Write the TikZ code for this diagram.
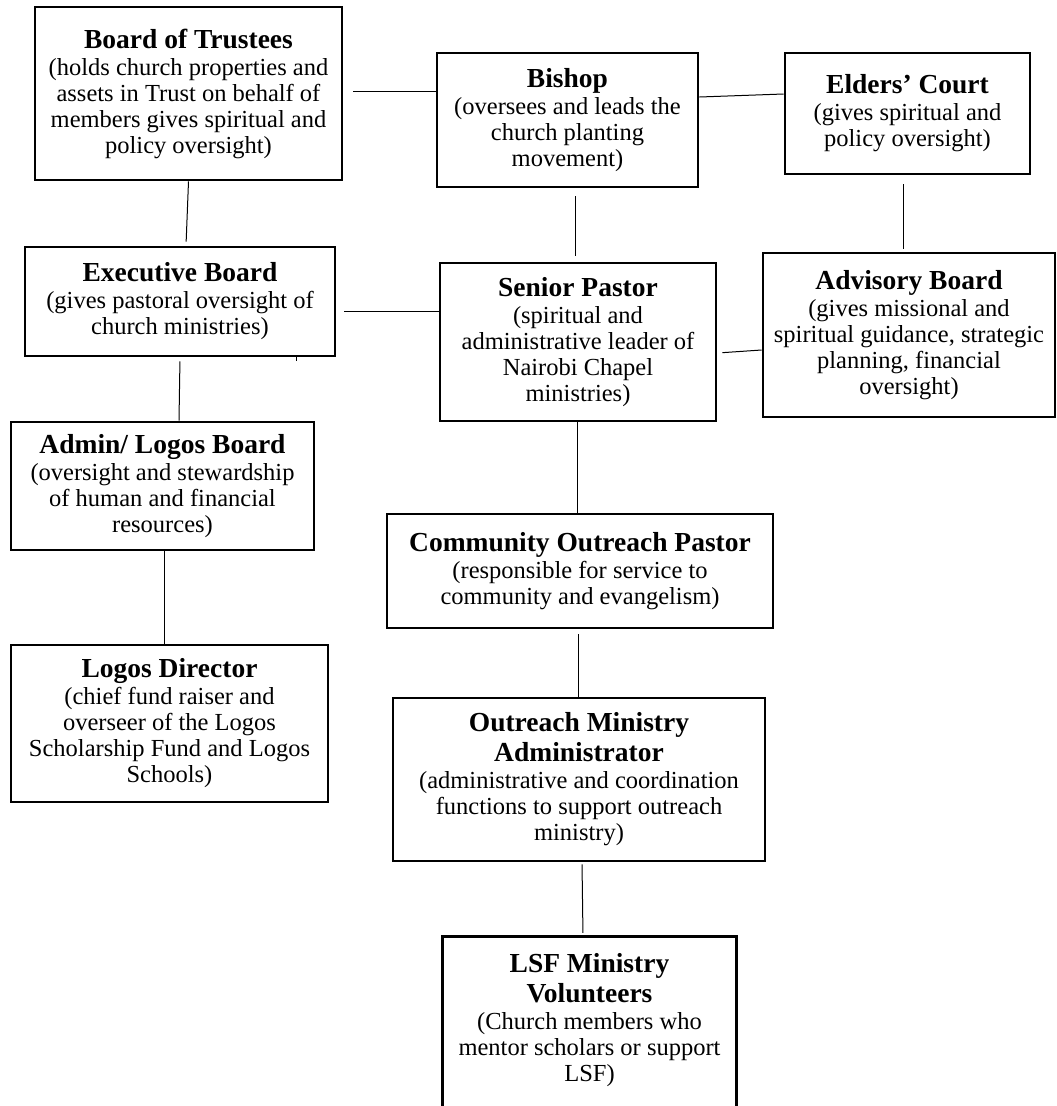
\documentclass[tikz,border=0pt]{standalone}
\usepackage{fontspec}
\setmainfont{Liberation Serif}
\usepackage{tikz}

\newcommand{\boxhead}[1]{{\fontsize{27.5}{30}\selectfont\bfseries #1}}

\begin{document}
\begin{tikzpicture}[x=1pt, y=-1pt,
    every node/.style={font=\fontsize{24.5}{26}\selectfont},
    orgbox/.style={draw, line width=2.8pt, align=center, inner sep=0pt},
    link/.style={line width=1pt}]
  \useasboundingbox (0,0) rectangle (1057,1106);

  % Governing bodies
  \node[orgbox, minimum width=307pt, minimum height=173pt] (trustees) at (188.5,93.5)
    {\boxhead{Board of Trustees}\\[1pt](holds church properties and\\assets in Trust on behalf of\\members gives spiritual and\\policy oversight)};
  \node[orgbox, minimum width=261pt, minimum height=134pt] (bishop) at (567.5,120)
    {\boxhead{Bishop}\\[1pt](oversees and leads the\\church planting\\movement)};
  \node[orgbox, minimum width=245pt, minimum height=121pt] (elders) at (907.5,113.5)
    {\boxhead{Elders’ Court}\\[1pt](gives spiritual and\\policy oversight)};

  % Second row
  \node[orgbox, minimum width=310pt, minimum height=109pt] (exec) at (180,301.5)
    {\boxhead{Executive Board}\\[1pt](gives pastoral oversight of\\church ministries)};
  \node[orgbox, minimum width=276pt, minimum height=158pt] (senior) at (578,342)
    {\boxhead{Senior Pastor}\\[1pt](spiritual and\\administrative leader of\\Nairobi Chapel\\ministries)};
  \node[orgbox, minimum width=292pt, minimum height=164pt] (advisory) at (909,335)
    {\boxhead{Advisory Board}\\[1pt](gives missional and\\spiritual guidance, strategic\\planning, financial\\oversight)};

  % Logos side
  \node[orgbox, minimum width=303pt, minimum height=128pt] (admin) at (162.5,486)
    {\boxhead{Admin/ Logos Board}\\[1pt](oversight and stewardship\\of human and financial\\resources)};
  \node[orgbox, minimum width=317pt, minimum height=157pt] (logos) at (169.5,723.5)
    {\boxhead{Logos Director}\\[1pt](chief fund raiser and\\overseer of the Logos\\Scholarship Fund and Logos\\Schools)};

  % Outreach side
  \node[orgbox, minimum width=386pt, minimum height=114pt] (cop) at (580,571)
    {\boxhead{Community Outreach Pastor}\\[1pt](responsible for service to\\community and evangelism)};
  \node[orgbox, minimum width=372pt, minimum height=163pt] (oma) at (579,779.5)
    {\boxhead{Outreach Ministry}\\[4pt]\boxhead{Administrator}\\[1pt](administrative and coordination\\functions to support outreach\\ministry)};
  \node[align=center, inner sep=0pt, minimum width=293pt, minimum height=166pt] (lsf) at (589.5,1020)
    {\boxhead{LSF Ministry}\\[4pt]\boxhead{Volunteers}\\[1pt](Church members who\\mentor scholars or support\\LSF)};
  \draw[line width=2.8pt] ([yshift=-40pt]lsf.south west) |- (lsf.north east) -- ([yshift=-40pt]lsf.south east);

  % Lines
  \draw[link, shorten <=10pt] ([yshift=2pt]trustees.east) -- ([yshift=2pt]trustees.east -| bishop.west);
  \draw[link] ([yshift=23pt]bishop.east) -- ([yshift=19.5pt]elders.west);
  \draw[link, shorten >=4pt] (trustees.south) -- ([xshift=6pt]exec.north);
  \draw[link, shorten <=8pt] ([yshift=-9.5pt]exec.east) -- ([yshift=-9.5pt]exec.east -| senior.west);
  \draw[link, shorten <=8pt, shorten >=6pt] ([xshift=7.5pt]bishop.south) -- ([xshift=7.5pt]bishop.south |- senior.north);
  \draw[link, shorten <=9pt, shorten >=3pt] ([xshift=-4pt]elders.south) -- ([xshift=-4pt]elders.south |- advisory.north);
  \draw[link, shorten <=5pt] ([yshift=-11pt]senior.east) -- ([yshift=-15pt]advisory.west);
  \coordinate (stub) at (296,361);
  \draw[link] (stub |- exec.south) -- (stub);
  \draw[link, shorten <=4pt] (exec.south) -- ([xshift=-1pt]exec.south |- admin.north);
  \draw[link] ([xshift=1.5pt]admin.south) -- ([xshift=1.5pt]admin.south |- logos.north);
  \draw[link] ([xshift=-1pt]senior.south) -- ([xshift=-1pt]senior.south |- cop.north);
  \draw[link, shorten <=5pt] ([xshift=-2pt]cop.south) -- ([xshift=-2pt]cop.south |- oma.north);
  \draw[link, shorten <=2pt, shorten >=4pt] ([xshift=3pt]oma.south) -- ([xshift=4pt]oma.south |- lsf.north);
\end{tikzpicture}
\end{document}
